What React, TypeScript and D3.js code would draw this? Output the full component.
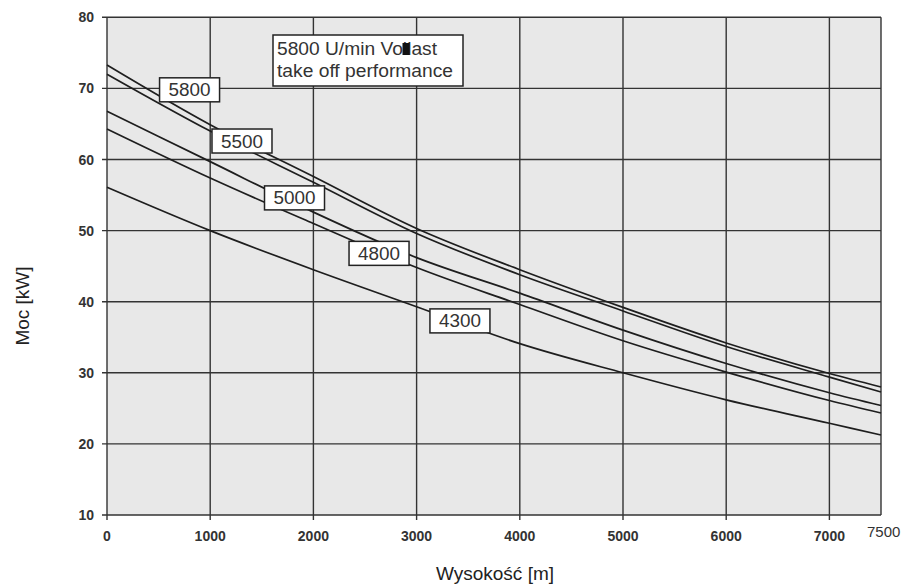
import React from "react";
import * as d3 from "d3";

const altitudes = [0, 1000, 2000, 3000, 4000, 5000, 6000, 7000, 7500];
const rpm5800 = [73.3, 64.9, 57.6, 50.3, 44.5, 39.2, 34.2, 29.9, 28.0];
const rpm5500 = [72.0, 64.0, 56.8, 49.6, 43.8, 38.7, 33.7, 29.4, 27.3];
const rpm5000 = [66.8, 59.7, 52.6, 46.2, 41.2, 36.0, 31.3, 27.2, 25.4];
const rpm4800 = [64.3, 57.4, 51.0, 44.8, 39.6, 34.5, 30.1, 26.1, 24.35];
const rpm4300 = [56.1, 50.0, 44.5, 39.3, 34.1, 30.0, 26.2, 22.9, 21.25];
const seriesNames = ["5800", "5500", "5000", "4800", "4300"];
const labelAlt = [800, 1308, 1817, 2636, 3420];
const labelPow = [69.8, 62.6, 54.6, 46.8, 37.3];
const xTicks = [0, 1000, 2000, 3000, 4000, 5000, 6000, 7000];
const yTicks = [10, 20, 30, 40, 50, 60, 70, 80];
const legendLine1 = "5800 U/min Vollast";
const legendLine2 = "take off performance";
const xTitle = "Wysokość [m]";
const yTitle = "Moc [kW]";

export default function App() {
  const W = 910, H = 586;
  const x = d3.scaleLinear().domain([0, 7500]).range([107, 881]);
  const y = d3.scaleLinear().domain([10, 80]).range([515, 17.3]);
  const series = [rpm5800, rpm5500, rpm5000, rpm4800, rpm4300];
  const line = d3
    .line<number>()
    .x((_, i) => x(altitudes[i]))
    .y((d) => y(d))
    .curve(d3.curveMonotoneX);
  const font = "Liberation Sans, Arial, sans-serif";
  const grid = "#333";
  return (
    <svg width={W} height={H} style={{ position: "absolute", left: 0, top: 0 }} fontFamily={font}>
      <rect x={0} y={0} width={W} height={H} fill="#fff" />
      <rect x={x(0)} y={y(80)} width={x(7500) - x(0)} height={y(10) - y(80)} fill="#e8e8e8" />
      {xTicks.map((t) => (
        <line key={"gx" + t} x1={x(t)} x2={x(t)} y1={y(80)} y2={y(10) + 5} stroke={grid} strokeWidth={1.4} />
      ))}
      {yTicks.map((t) => (
        <line key={"gy" + t} x1={x(0) - 5} x2={x(7500)} y1={y(t)} y2={y(t)} stroke={grid} strokeWidth={1.4} />
      ))}
      <line x1={x(7500)} x2={x(7500)} y1={y(80)} y2={y(10)} stroke={grid} strokeWidth={1.4} />
      {yTicks.map((t) => (
        <text key={"ty" + t} x={94} y={y(t) + 5} textAnchor="end" fontSize={14} fontWeight="bold" fill="#333">
          {t}
        </text>
      ))}
      {xTicks.map((t) => (
        <text key={"tx" + t} x={x(t)} y={541} textAnchor="middle" fontSize={14} fontWeight="bold" fill="#333">
          {t}
        </text>
      ))}
      <text x={867} y={537} fontSize={15} fill="#333">7500</text>
      {series.map((s, i) => (
        <path key={"s" + i} d={line(s) || ""} fill="none" stroke="#1e1e1e" strokeWidth={1.7} />
      ))}
      {seriesNames.map((n, i) => {
        const cx = x(labelAlt[i]);
        const cy = y(labelPow[i]);
        return (
          <g key={"l" + n}>
            <rect x={cx - 30} y={cy - 12} width={60} height={24} fill="#fff" stroke="#222" strokeWidth={1.5} />
            <text x={cx} y={cy + 6.5} textAnchor="middle" fontSize={18} fill="#333" textLength={42} lengthAdjust="spacingAndGlyphs">
              {n}
            </text>
          </g>
        );
      })}
      <rect x={273} y={35} width={190} height={51} fill="#fff" stroke="#222" strokeWidth={1.5} />
      <text x={277} y={55} fontSize={17.5} fill="#333" textLength={160} lengthAdjust="spacingAndGlyphs">
        {legendLine1}
      </text>
      <rect x={402.5} y={43} width={7} height={12} fill="#111" />
      <text x={277} y={77} fontSize={17.5} fill="#333" textLength={176} lengthAdjust="spacingAndGlyphs">
        {legendLine2}
      </text>
      <text x={495} y={580} textAnchor="middle" fontSize={19} fill="#222">
        {xTitle}
      </text>
      <text transform="translate(29,306) rotate(-90)" textAnchor="middle" fontSize={19} fill="#222">
        {yTitle}
      </text>
    </svg>
  );
}
